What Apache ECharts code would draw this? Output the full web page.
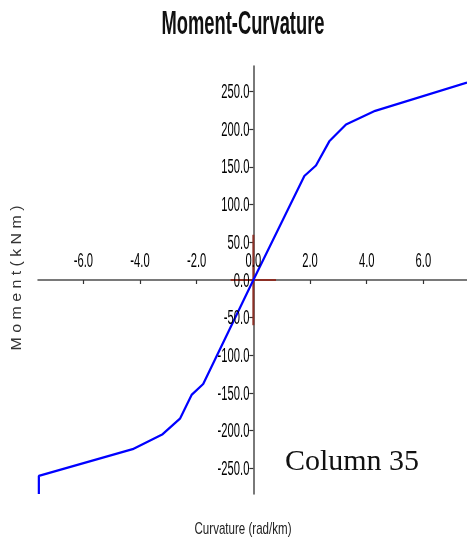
<!DOCTYPE html>
<html>
<head>
<meta charset="utf-8">
<script src="https://cdn.jsdelivr.net/npm/echarts@6/dist/echarts.min.js"></script>
<style>
  html, body { margin: 0; padding: 0; background: #fff; }
  #chart { width: 467px; height: 544px; }
</style>
</head>
<body>
<div id="chart"></div>
<script>
// Moment-curvature response of the column section (symmetric envelope)
const curvature = [-7.57, -7.57, -4.26, -3.20, -2.59, -2.18, -1.77, 0, 1.80, 2.21, 2.68, 3.27, 4.30, 7.54];
const moment    = [-284, -260, -224.5, -204.6, -184, -152.5, -138, 0, 138, 152, 184, 206.5, 224.5, 262];

// Small reference cross drawn at the origin
const crossHorizontal = [[-0.8, 0], [0.8, 0]];
const crossVertical   = [[0, -60], [0, 60]];

// Tick values shown on each axis
const xTicks = [-6, -4, -2, 0, 2, 4, 6];
const yTicks = [-250, -200, -150, -100, -50, 0, 50, 100, 150, 200, 250];

const curve = curvature.map((c, i) => [c, moment[i]]);

const TICK_FONT = "20px 'Liberation Sans Narrow', 'Liberation Sans', Arial, sans-serif";
const measureCtx = document.createElement('canvas').getContext('2d');
function squeeze(text, font, targetWidth) {
  measureCtx.font = font;
  return targetWidth / measureCtx.measureText(text).width;
}
const tickScale = squeeze('250.0', TICK_FONT, 28);

const chart = echarts.init(document.getElementById('chart'), null, { renderer: 'canvas' });

function xLabelItem(params, api) {
  const p = api.coord([api.value(0), 0]);
  return {
    type: 'text',
    x: p[0], y: p[1] - 19,
    scaleX: tickScale,
    style: { text: api.value(0).toFixed(1), font: TICK_FONT, fill: '#000',
             align: 'center', verticalAlign: 'middle' }
  };
}
function yLabelItem(params, api) {
  const p = api.coord([0, api.value(0)]);
  return {
    type: 'text',
    x: p[0] - 4, y: p[1] + 1,
    scaleX: tickScale,
    style: { text: api.value(0).toFixed(1), font: TICK_FONT, fill: '#000',
             align: 'right', verticalAlign: 'middle' }
  };
}

const titleFont = "bold 33px 'Liberation Sans Narrow', 'Liberation Sans', Arial, sans-serif";
const yNameText = 'M o m e n t ( k N m )';
const yNameFont = "14px 'Liberation Sans', Arial, sans-serif";
const xNameText = 'Curvature (rad/km)';
const xNameFont = "17px 'Liberation Sans Narrow', 'Liberation Sans', Arial, sans-serif";

chart.setOption({
  animation: false,
  backgroundColor: '#ffffff',
  grid: { left: 38, right: 0, top: 66, bottom: 50, outerBoundsMode: 'none', containLabel: false },
  xAxis: {
    type: 'value', min: -7.6, max: 7.54,
    axisLine: { onZero: true, lineStyle: { color: '#4d4d4d', width: 1.5 } },
    axisTick: { show: true, length: 4, customValues: xTicks, lineStyle: { color: '#333', width: 1.2 } },
    axisLabel: { show: false },
    splitLine: { show: false }
  },
  yAxis: {
    type: 'value', min: -284, max: 284,
    axisLine: { onZero: true, lineStyle: { color: '#4d4d4d', width: 1.5 } },
    axisTick: { show: true, length: 4, customValues: yTicks, lineStyle: { color: '#333', width: 1.2 } },
    axisLabel: { show: false },
    splitLine: { show: false }
  },
  graphic: [
    { type: 'text', x: 243, y: 25, scaleX: squeeze('Moment-Curvature', titleFont, 163),
      style: { text: 'Moment-Curvature', font: titleFont, fill: '#111', align: 'center', verticalAlign: 'middle' } },
    { type: 'text', x: 17, y: 278, rotation: Math.PI / 2, scaleX: squeeze(yNameText, yNameFont, 145),
      style: { text: yNameText, font: yNameFont, fill: '#333', align: 'center', verticalAlign: 'middle' } },
    { type: 'text', x: 243, y: 529, scaleX: squeeze(xNameText, xNameFont, 97),
      style: { text: xNameText, font: xNameFont, fill: '#222', align: 'center', verticalAlign: 'middle' } },
    { type: 'text', x: 352, y: 462,
      style: { text: 'Column 35', font: "30px 'Liberation Serif', 'Times New Roman', serif", fill: '#111',
               align: 'center', verticalAlign: 'middle' } }
  ],
  series: [
    { type: 'line', data: crossHorizontal, symbol: 'none', silent: true,
      lineStyle: { color: '#8c2f25', width: 2 } },
    { type: 'line', data: crossVertical, symbol: 'none', silent: true,
      lineStyle: { color: '#8c2f25', width: 2 } },
    { type: 'line', data: curve, symbol: 'none', z: 3,
      lineStyle: { color: '#0000ff', width: 2.2 } },
    { type: 'custom', data: xTicks.map(v => [v]), renderItem: xLabelItem, silent: true, clip: false, z: 4 },
    { type: 'custom', data: yTicks.map(v => [v]), renderItem: yLabelItem, silent: true, clip: false, z: 4 }
  ]
});
</script>
</body>
</html>
